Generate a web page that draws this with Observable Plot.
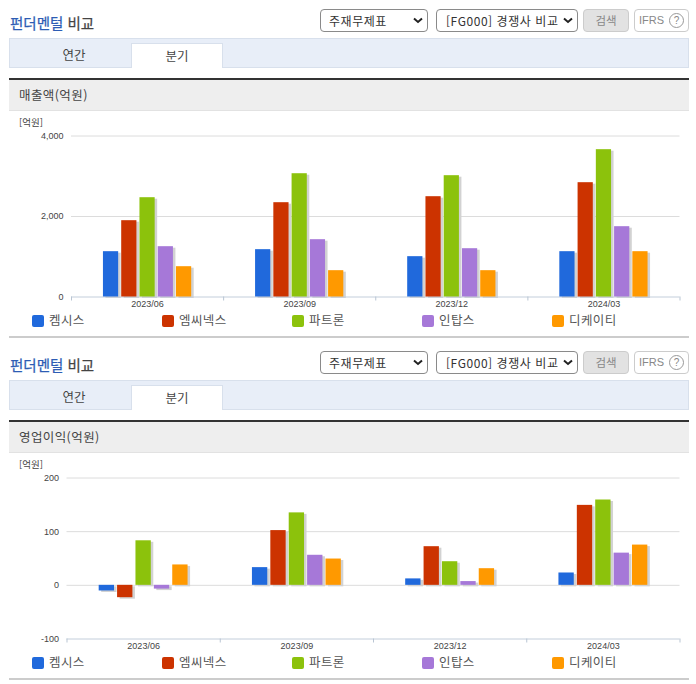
<!DOCTYPE html>
<html lang="ko"><head><meta charset="utf-8">
<script src="https://cdn.jsdelivr.net/npm/d3@7"></script>
<script src="https://cdn.jsdelivr.net/npm/@observablehq/plot@0.6"></script>
<style>
html,body{margin:0;padding:0;background:#fff;overflow:hidden}
body{width:696px;height:684px;position:relative;font-family:"Noto Sans CJK KR","Noto Sans",sans-serif;color:#444}
.sec{position:absolute;left:0;width:696px;height:342px}
.sec>*{position:absolute}
.ttl{left:10px;top:13px;font-size:14.5px;font-weight:400;line-height:20px;color:#444;white-space:nowrap;-webkit-text-stroke:.25px currentColor}
.ttl b{font-weight:400;color:#2d5cb4}
select{top:9px;height:23px;font:12px "Noto Sans CJK KR",sans-serif;color:#333;border:1px solid #8a8a8a;border-radius:4px;box-sizing:border-box;letter-spacing:.55px;appearance:none;-webkit-appearance:none;
background:#fff url("data:image/svg+xml,%3Csvg xmlns='http://www.w3.org/2000/svg' width='10' height='7'%3E%3Cpath d='M1 1.5l4 3.5l4-3.5' fill='none' stroke='%23222' stroke-width='2'/%3E%3C/svg%3E") no-repeat right 4px center}
.s1{left:320px;width:108px;padding:0 0 0 8px}.s2{left:436px;width:142px;padding:0 0 0 9px}
.btn{top:9px;height:23px;box-sizing:border-box;border-radius:4px;text-align:center;font-size:11.5px;line-height:20px}
.b1{left:583px;width:46px;background:#e2e2e2;border:1px solid #ccc;color:#888}
.b2{left:634px;width:55px;background:#fff;border:1px solid #ccc;color:#888;font-family:"Liberation Sans",sans-serif;font-size:11px}
.b2 i{display:inline-block;width:13px;height:13px;border:1px solid #999;border-radius:50%;font-style:normal;font-size:10px;line-height:13px;margin-left:2px}
.strip{left:9px;top:38px;width:680px;height:30px;box-sizing:border-box;background:#e8eef8;border:1px solid #d8e0ec}
.tab{top:43px;height:25px;text-align:center;font-size:12.5px;line-height:23px;color:#444}
.t1{left:21px;width:106px}
.t2{left:131px;width:92px;background:#fff;border:1px solid #d8e0ec;border-bottom:none;box-sizing:border-box}
.hd{left:9px;top:78px;width:680px;height:33px;box-sizing:border-box;background:#eee;border-top:2px solid #333;border-bottom:1px solid #e2e2e2;font-size:12.5px;line-height:29px;padding-left:10px;letter-spacing:.4px;color:#444}
.unit{left:19px;top:116px;font-size:9.5px;line-height:13px;color:#444}
.leg{top:313px;font-size:12.5px;line-height:14px;color:#555;white-space:nowrap;letter-spacing:.4px}
.leg i{display:inline-block;width:12px;height:12px;border-radius:2px;margin-right:5px;vertical-align:-2px}
.foot{left:9px;top:336px;width:680px;height:2px;background:#ccc}
svg{position:absolute;left:0;top:0;font-family:"Liberation Sans",sans-serif}
</style></head><body>
<div id="root"></div>
<script>
const quarters = ["2023/06","2023/09","2023/12","2024/03"];
const companies = ["켐시스","엠씨넥스","파트론","인탑스","디케이티"];
const colors = ["#2069dc","#cc3300","#8cc20c","#a678d8","#ff9900"];
const revenue = [
  [1126,1896,2467,1250,753],
  [1176,2343,3063,1424,654],
  [1002,2492,3014,1200,654],
  [1126,2840,3660,1747,1126]
];
const profit = [
  [-10.5,-23,83,-7,38],
  [33,102,135,56,49],
  [12,72,44,7,31],
  [23,149,159,60,75]
];
const revenueTicks = [0,2000,4000];
const profitTicks = [-100,0,100,200];

function section(top, metric, values, yTicks, yDomain, left, yTop, yBottom, labelY){
  const sec = document.createElement("div");
  sec.className = "sec"; sec.style.top = top + "px";
  sec.innerHTML = `
    <div class="ttl"><b>펀더멘털</b> 비교</div>
    <select class="s1"><option>주재무제표</option></select>
    <select class="s2"><option>[FG000] 경쟁사 비교</option></select>
    <div class="btn b1">검색</div>
    <div class="btn b2">IFRS <i>?</i></div>
    <div class="strip"></div>
    <div class="tab t1">연간</div>
    <div class="tab t2">분기</div>
    <div class="hd">${metric}</div>
    <div class="unit">[억원]</div>
    <div class="foot"></div>`;
  const rows = values.flatMap((row,q)=>row.map((v,s)=>({q,s,v,company:companies[s]})));
  const step = 0.12, w = 0.1;                       // share of one quarter's width
  const x1 = d => d.q + 0.5 + (d.s - 2.5) * step + (step - w) / 2;
  const x2 = d => x1(d) + w;
  const H = 336;
  const plot = Plot.plot({
    width:696, height:H,
    marginLeft:left, marginRight:696-679.5, marginTop:yTop, marginBottom:H-yBottom,
    x:{domain:[0,4], axis:null},
    y:{domain:yDomain, axis:null},
    marks:[
      Plot.ruleY(yTicks.filter(t=>t!==yDomain[0]), {y:d=>d, stroke:"#dcdcdc"}),
      Plot.rectY(rows, {x1, x2, y1:0, y2:"v", fill:"#d2d2d2", dx:2.5, dy:1.5}),
      Plot.ruleY([yDomain[0]], {stroke:"#c3cedb"}),
      Plot.axisX({ticks:[0,1,2,3,4], tickFormat:()=>"", tickSize:4, stroke:"#b9c5d3", anchor:"bottom", label:null}),
      Plot.rectY(rows, {x1, x2, y1:0, y2:"v", fill:(d)=>colors[d.s]}),
      Plot.text(quarters, {x:(d,i)=>i+0.5, frameAnchor:"bottom", dy:labelY, text:d=>d, fontSize:9, fill:"#444"}),
      Plot.axisY({ticks:yTicks, tickSize:0, tickPadding:8, tickFormat:d=>d.toLocaleString("en-US"), fontSize:9, color:"#444", label:null, anchor:"left"})
    ]
  });
  sec.appendChild(plot);
  companies.forEach((c,i)=>{
    const l = document.createElement("div");
    l.className = "leg"; l.style.left = (32+130*i) + "px";
    l.innerHTML = `<i style="background:${colors[i]}"></i>${c}`;
    sec.appendChild(l);
  });
  document.getElementById("root").appendChild(sec);
}
section(0, "매출액(억원)", revenue, revenueTicks, [0,4000], 71, 135.5, 296.5, 10);
section(342, "영업이익(억원)", profit, profitTicks, [-100,200], 66.5, 135.5, 296.5, 10);
</script></body></html>
